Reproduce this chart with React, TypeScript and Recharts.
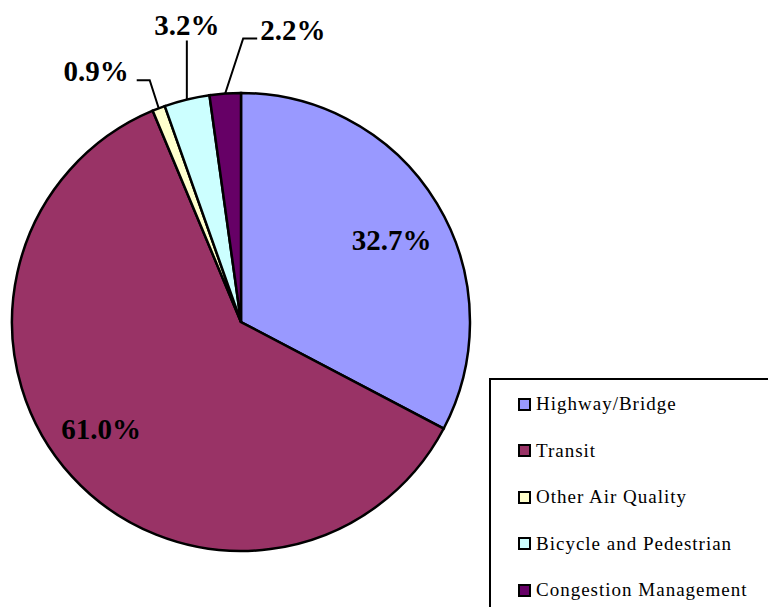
import { PieChart, Pie, Cell, Legend } from 'recharts';

const CATEGORIES = [
  'Highway/Bridge',
  'Transit',
  'Other Air Quality',
  'Bicycle and Pedestrian',
  'Congestion Management',
];
const SHARES = [32.7, 61.0, 0.9, 3.2, 2.2];
const COLORS = ['#9999ff', '#993366', '#ffffcc', '#ccffff', '#660066'];

const data = CATEGORIES.map((name, i) => ({ name, value: SHARES[i] }));

const RADIAN = Math.PI / 180;
const SERIF = '"Liberation Serif", "Times New Roman", serif';

// inside labels: radius fraction and a small angular nudge (deg)
const INSIDE: Record<string, { r: number; da: number }> = {
  'Highway/Bridge': { r: 0.75, da: -2.5 },
  Transit: { r: 0.77, da: -5 },
};

// leader lines for the thin slices: elbow offset from the rim, then a short tail
const CALLOUTS: Record<string, { ex: number; ey: number; tail: number }> = {
  'Other Air Quality': { ex: -9, ey: -28, tail: -13 },
  'Bicycle and Pedestrian': { ex: 0, ey: -59, tail: 0 },
  'Congestion Management': { ex: 18, ey: -55, tail: 14 },
};

const renderLabel = (props: any) => {
  const { cx, cy, midAngle, outerRadius, name, value } = props;
  const text = `${Number(value).toFixed(1)}%`;
  const style = { fontFamily: SERIF, fontWeight: 700, fontSize: 29 };
  const c = CALLOUTS[name];

  if (!c) {
    const ins = INSIDE[name] || { r: 0.75, da: 0 };
    const a = -(midAngle + ins.da) * RADIAN;
    const r = outerRadius * ins.r;
    return (
      <text
        x={cx + r * Math.cos(a)}
        y={cy + r * Math.sin(a)}
        textAnchor="middle"
        dominantBaseline="central"
        fill="#000"
        style={style}
      >
        {text}
      </text>
    );
  }

  const cos = Math.cos(-midAngle * RADIAN);
  const sin = Math.sin(-midAngle * RADIAN);
  const x0 = cx + outerRadius * cos;
  const y0 = cy + outerRadius * sin;
  const x1 = x0 + c.ex;
  const y1 = y0 + c.ey;
  const x2 = x1 + c.tail;
  const anchor = c.tail < 0 ? 'end' : c.tail > 0 ? 'start' : 'middle';
  const tx = c.tail < 0 ? x2 - 8 : c.tail > 0 ? x2 + 3 : x2;
  const ty = c.tail === 0 ? y1 - 5 : y1 + 1;

  return (
    <g>
      <polyline
        points={`${x0},${y0} ${x1},${y1} ${x2},${y1}`}
        fill="none"
        stroke="#000"
        strokeWidth={2}
      />
      <text x={tx} y={ty} textAnchor={anchor} fill="#000" style={style}>
        {text}
      </text>
    </g>
  );
};

const renderLegend = () => (
  <div
    style={{
      width: 300,
      height: 250,
      border: '2px solid #000',
      boxSizing: 'border-box',
      background: '#fff',
      paddingTop: 1,
    }}
  >
    {CATEGORIES.map((name, i) => (
      <div
        key={name}
        style={{ display: 'flex', alignItems: 'center', height: 46.5, marginLeft: 27 }}
      >
        <span
          style={{
            width: 13,
            height: 13,
            boxSizing: 'border-box',
            background: COLORS[i],
            border: '2px solid #000',
            marginRight: 5,
            flexShrink: 0,
          }}
        />
        <span style={{ fontFamily: SERIF, fontSize: 19, letterSpacing: 1, color: '#000' }}>
          {name}
        </span>
      </div>
    ))}
  </div>
);

export default function App() {
  return (
    <div
      style={{
        position: 'absolute',
        left: 0,
        top: 0,
        width: 768,
        height: 607,
        overflow: 'hidden',
        background: '#fff',
      }}
    >
      <PieChart width={768} height={607} margin={{ top: 0, right: 0, bottom: 0, left: 0 }}>
        <Pie
          data={data}
          dataKey="value"
          nameKey="name"
          cx={241}
          cy={322}
          outerRadius={229}
          startAngle={90}
          endAngle={-270}
          stroke="#000"
          strokeWidth={2.5}
          labelLine={false}
          label={renderLabel}
          isAnimationActive={false}
        >
          {data.map((entry, index) => (
            <Cell key={`cell-${index}`} fill={COLORS[index % COLORS.length]} />
          ))}
        </Pie>
        <Legend
          content={renderLegend}
          wrapperStyle={{ left: 489, top: 378, width: 'auto', bottom: 'auto' }}
        />
      </PieChart>
    </div>
  );
}
